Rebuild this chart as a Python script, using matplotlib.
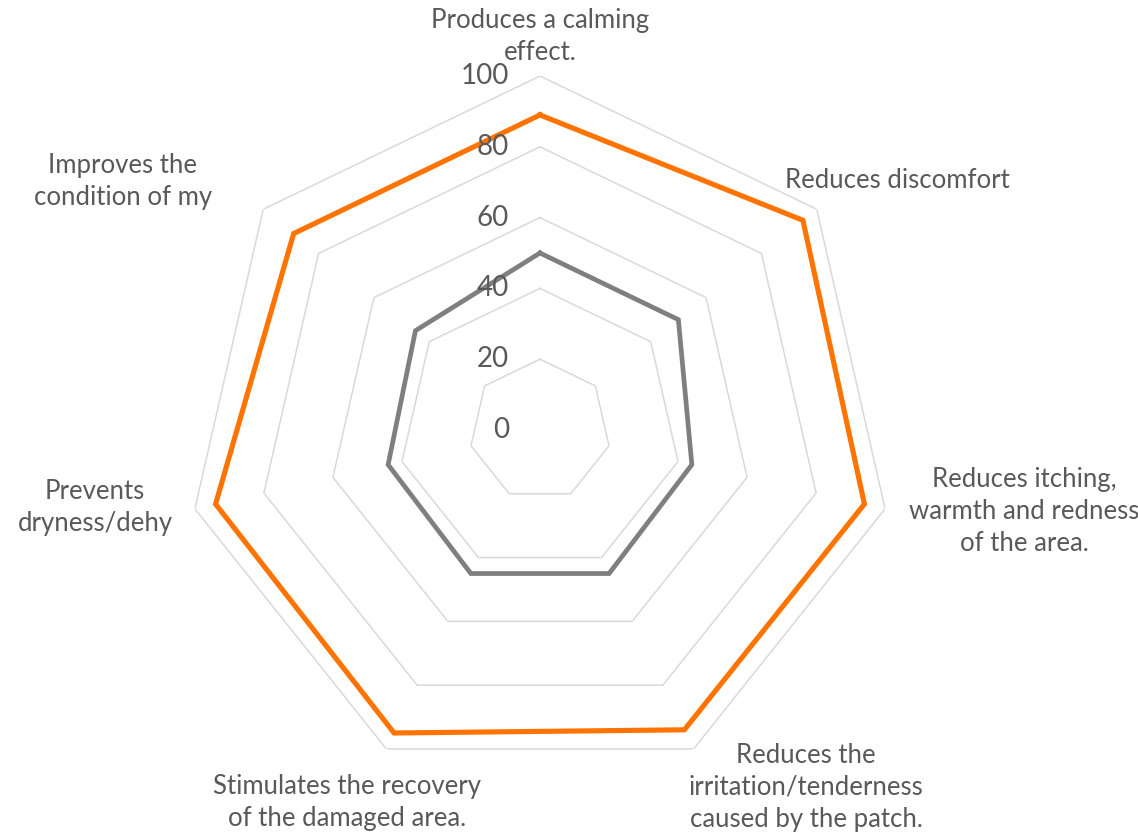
import numpy as np
import matplotlib
matplotlib.use("Agg")
import matplotlib.pyplot as plt
from matplotlib.transforms import offset_copy

# radar chart: patch perception survey, two series

categories = ['Produces a calming\neffect.', 'Reduces discomfort',
              'Reduces itching,\nwarmth and redness\nof the area.',
              'Reduces the\nirritation/tenderness\ncaused by the patch.',
              'Stimulates the recovery\nof the damaged area.',
              'Prevents\ndryness/dehy', 'Improves the\ncondition of my']
orange_vals = [89, 95, 94, 94, 95, 94, 89]
gray_vals = [50, 50, 44, 45, 45, 44, 45]
ticks = [0, 20, 40, 60, 80, 100]

# label placement (angle in degrees, radius in data units)
label_theta = [0, 55.0, 99.6, 143.3, 207.4, 260.1, 300.8]
label_r = [111.3, 123.1, 138.7, 125.8, 118.4, 127.6, 137.2]

plt.rcParams['font.family'] = ['Lato', 'DejaVu Sans']
txt_color = '#595959'

n = len(categories)
angles = np.arange(n) * 2 * np.pi / n
closed = np.append(angles, angles[0])

fig = plt.figure(figsize=(11.38, 8.35), dpi=100)
ax = fig.add_axes([0.16344, 0.06108, 0.62214, 0.84790], projection='polar')
ax.set_theta_zero_location('N')
ax.set_theta_direction(-1)
ax.set_ylim(0, 100)
ax.grid(False)
ax.set_xticks([])
ax.set_yticks([])
ax.spines['polar'].set_visible(False)
ax.patch.set_visible(False)

# heptagon gridlines
for t in ticks[1:]:
    ax.plot(closed, [t] * (n + 1), color='#d9d9d9', lw=1.1, zorder=1)

ax.plot(closed, gray_vals + gray_vals[:1], color='#7f7f7f', lw=3.4,
        solid_joinstyle='miter', zorder=3)
ax.plot(closed, orange_vals + orange_vals[:1], color='#ff7300', lw=3.7,
        solid_joinstyle='miter', zorder=3)

# radial tick labels
tick_tr = offset_copy(ax.transData, fig=fig, x=-31, y=0, units='dots')
for t in ticks:
    ax.text(0, t, str(t), transform=tick_tr, ha='right', va='center',
            fontsize=20, color=txt_color, zorder=4)

for lab, th, r in zip(categories, label_theta, label_r):
    ax.text(np.deg2rad(th), r, lab, ha='center', va='center', ma='center',
            fontsize=18.5, color=txt_color, linespacing=1.35, clip_on=False)

fig.savefig('out.png', dpi=100)
